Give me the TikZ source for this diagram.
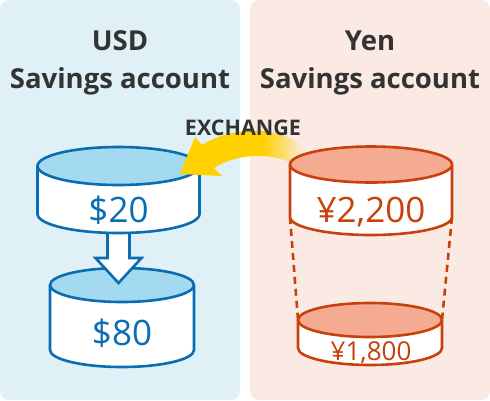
\documentclass[tikz,border=0pt]{standalone}
\usepackage{fontspec}
\setmainfont{Open Sans}

\definecolor{usdpanel}{HTML}{DFF0F7}
\definecolor{yenpanel}{HTML}{FBEAE4}
\definecolor{usdblue}{HTML}{0A6CB2}
\definecolor{usdtop}{HTML}{A3DAEF}
\definecolor{yenred}{HTML}{C8400C}
\definecolor{yentop}{HTML}{F5AB92}
\definecolor{swapyellow}{HTML}{FFD100}
\definecolor{inkgray}{HTML}{333333}

% yellow swap arrow fades out towards its tail
\pgfdeclarehorizontalshading{swapfade}{100bp}{color(0bp)=(swapyellow); color(58bp)=(swapyellow); color(75bp)=(yenpanel); color(100bp)=(yenpanel)}

\tikzset{
  heading/.style={font=\bfseries\fontsize{27.5}{32}\selectfont,text=inkgray,anchor=base,inner sep=0pt},
  amount/.style={font=\fontsize{35}{40}\selectfont,anchor=base,inner sep=0pt},
  smallamount/.style={font=\fontsize{26}{30}\selectfont,anchor=base,inner sep=0pt},
  rim/.style={line width=2.6pt,line join=round},
  dashcon/.style={draw=yenred,line width=2.6pt,dash pattern=on 7pt off 5pt},
}

\begin{document}
\begin{tikzpicture}[x=1pt,y=-1pt]
% 490 x 400, two account panels
\useasboundingbox (0,0) rectangle (490,400);
\path[fill=usdpanel,rounded corners=9pt] (0,0) rectangle (240,400);
\path[fill=yenpanel,rounded corners=9pt] (250,0) rectangle (490,400);

\node[heading] (usdname) at (120,50) {USD};
\node[heading] (usdkind) at (120,88) {Savings account};
\node[heading] (yenname) at (370,50) {Yen};
\node[heading] (yenkind) at (370,88) {Savings account};

% USD account, lower drum
\path[draw=usdblue,fill=white,rim] (50,285) -- (50,350) arc[start angle=180,end angle=0,x radius=72,y radius=17] -- (194,285);
\path[draw=usdblue,fill=usdtop,rim] (122,285) ellipse[x radius=72,y radius=17];

% drop arrow
\coordinate (dropTop) at (118.5,230);
\coordinate (dropTip) at (118.5,283);
\path[draw=usdblue,fill=white,line width=2.6pt,line join=miter] (dropTop) ++(-11,0) -- ++(0,28) -- ++(-12,0) -- (dropTip) -- ++(23,-25) -- ++(-12,0) -- ++(0,-28);

% USD account, upper drum
\path[draw=usdblue,fill=white,rim] (37.5,166) -- (37.5,214) arc[start angle=180,end angle=0,x radius=81,y radius=19] -- (199.5,166);
\path[draw=usdblue,fill=usdtop,rim] (118.5,166) ellipse[x radius=81,y radius=19];

\node[amount,text=usdblue] (usdtwenty) at (118.5,222) {\$20};
\node[amount,text=usdblue] (usdeighty) at (122,345) {\$80};

% exchange arrow
\coordinate (swapTip) at (180,174);
\shade[shading=swapfade] (swapTip) -- (195,137) -- (202,145)
  .. controls (230,127) and (278,124) .. (305,148) -- (296,165)
  .. controls (270,151) and (236,154) .. (214,168) -- (222,176) -- cycle;
\node[font=\bfseries\fontsize{21.5}{25}\selectfont,text=inkgray,anchor=base,inner sep=0pt] (swaplabel) at (243,135) {EXCHANGE};

% Yen account drums
\coordinate (bigLeft) at (290,217);
\coordinate (bigRight) at (452,217);
\coordinate (smallLeft) at (298,320);
\coordinate (smallRight) at (442,320);
\draw[dashcon] (bigLeft) -- (smallLeft);
\draw[dashcon] (bigRight) -- (smallRight);

\path[draw=yenred,fill=white,rim] (290,164.5) -- (bigLeft) arc[start angle=180,end angle=0,x radius=81,y radius=18] -- (452,164.5);
\path[draw=yenred,fill=yentop,rim] (371,164.5) ellipse[x radius=81,y radius=18];

\path[draw=yenred,fill=white,rim] (smallLeft) -- (298,348) arc[start angle=180,end angle=0,x radius=72,y radius=17] -- (smallRight);
\path[draw=yenred,fill=yentop,rim] (370,320) ellipse[x radius=72,y radius=17];

\node[amount,text=yenred] (yenbig) at (371,222) {¥2,200};
\node[smallamount,text=yenred] (yensmall) at (371,360) {¥1,800};
\end{tikzpicture}
\end{document}
